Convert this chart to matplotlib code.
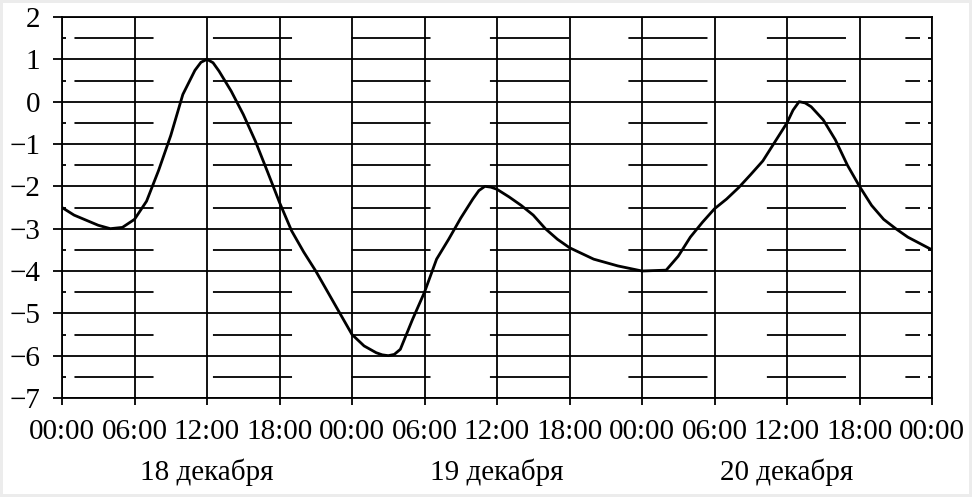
import matplotlib.pyplot as plt
import matplotlib.transforms as mtransforms

# temperature, hours from 00:00 18 Dec
hours = [0, 1, 2, 3, 4, 5, 6, 7, 8, 9, 10, 11, 11.5, 12, 12.5, 13, 14, 15, 16, 17, 18,
         19, 20, 21, 22, 23, 24, 25, 26, 26.5, 27, 27.5, 28, 29, 30, 31, 32, 33, 34,
         34.5, 35, 35.5, 36, 37, 38, 39, 40, 41, 42, 44, 46, 48, 50, 51, 52, 53, 54,
         55, 56, 57, 58, 59, 60, 60.5, 61, 61.5, 62, 63, 64, 65, 66, 67, 68, 69, 70,
         71, 72]
temps = [-2.5, -2.68, -2.8, -2.92, -3.0, -2.97, -2.78, -2.35, -1.62, -0.8, 0.17, 0.74,
         0.93, 1.0, 0.92, 0.72, 0.25, -0.3, -0.93, -1.65, -2.38,
         -3.05, -3.55, -4.0, -4.5, -5.0, -5.5, -5.77, -5.93, -5.98, -6.0, -5.97, -5.85,
         -5.15, -4.5, -3.72, -3.25, -2.75, -2.3,
         -2.1, -2.0, -2.02, -2.07, -2.25, -2.45, -2.68, -3.0, -3.25, -3.45, -3.72, -3.88,
         -4.0, -3.98, -3.65, -3.2, -2.85, -2.53,
         -2.3, -2.03, -1.72, -1.4, -0.95, -0.5, -0.2, 0.0, -0.03, -0.12, -0.43, -0.9,
         -1.5, -2.0, -2.45, -2.78, -3.0, -3.2,
         -3.35, -3.5]

xtick_pos = list(range(0, 73, 6))
xtick_labels = ['00:00', '06:00', '12:00', '18:00'] * 3 + ['00:00']
day_pos = [12, 36, 60]
day_labels = ['18 декабря', '19 декабря', '20 декабря']
ytick_pos = list(range(-7, 3))
ytick_labels = [str(v).replace('-', '\u2212') for v in ytick_pos]
half_pos = [v + 0.5 for v in range(-7, 2)]

plt.rcParams['font.family'] = ['Liberation Serif', 'DejaVu Serif']

fig = plt.figure(figsize=(9.72, 4.97), dpi=100)
fig.patch.set_edgecolor('#ececec')
fig.patch.set_linewidth(4)
ax = fig.add_axes([62 / 972, 1 - 398 / 497, 870 / 972, 381 / 497])

ax.set_xlim(0, 72)
ax.set_ylim(-7, 2)

# grid
for y in ytick_pos:
    ax.axhline(y, color='black', lw=1.3, zorder=1)
for x in xtick_pos:
    ax.axvline(x, color='black', lw=1.3, zorder=1)
ax.hlines(half_pos, 0, 71, colors='black', lw=1.3,
          linestyles=[(69.8, (43.8, 32.9))], zorder=1)

ax.plot(hours, temps, color='black', lw=2.0, zorder=3)

ax.set_xticks(xtick_pos)
ax.set_xticklabels(xtick_labels, fontsize=21)
ax.set_yticks(ytick_pos)
ax.set_yticklabels(ytick_labels, fontsize=21)
ax.set_yticks(half_pos, minor=True)
ax.tick_params(axis='x', which='major', direction='out', length=5, width=1.3, pad=10)
ax.tick_params(axis='y', which='major', direction='out', length=6.5, width=1.3, pad=9)
ax.tick_params(axis='y', which='minor', direction='in', length=3, width=1.3,
               left=True, right=True)
for s in ax.spines.values():
    s.set_linewidth(1.3)

trans = mtransforms.blended_transform_factory(ax.transData, ax.transAxes)
for x, lab in zip(day_pos, day_labels):
    ax.text(x, -0.195, lab, transform=trans, ha='center', va='center', fontsize=21)

fig.savefig('out.png', dpi=100)
